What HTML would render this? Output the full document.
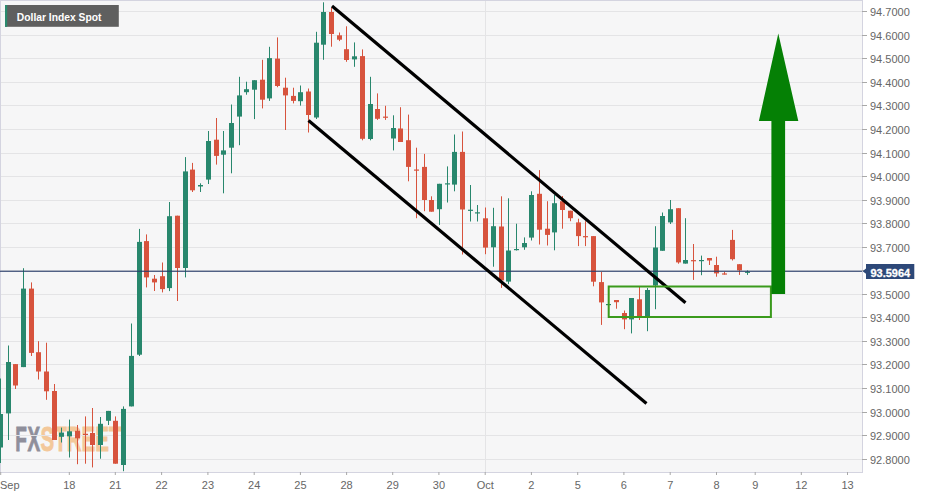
<!DOCTYPE html>
<html><head><meta charset="utf-8"><style>
html,body{margin:0;padding:0;background:#fff;width:939px;height:498px;overflow:hidden}
svg{display:block;font-family:"Liberation Sans",sans-serif}
</style></head><body>
<svg width="939" height="498" viewBox="0 0 939 498">
<rect x="0" y="0" width="939" height="498" fill="#ffffff"/>
<rect x="0" y="0" width="862.5" height="472.5" fill="#f6f6f7"/>
<g transform="translate(15.3,451.0) scale(0.55,1)" font-family="Liberation Sans" font-weight="bold" font-size="34.5px" stroke-width="0.9">
<text x="0" y="0" fill="#8f8f9b" stroke="#8f8f9b" textLength="45">FX</text><text x="46" y="0" fill="#f3c89a" stroke="#f3c89a" textLength="147" lengthAdjust="spacingAndGlyphs">STREET</text>
</g>
<rect x="0" y="11" width="862" height="1" fill="#e4e4e6"/>
<rect x="0" y="35" width="862" height="1" fill="#e4e4e6"/>
<rect x="0" y="58" width="862" height="1" fill="#e4e4e6"/>
<rect x="0" y="82" width="862" height="1" fill="#e4e4e6"/>
<rect x="0" y="105" width="862" height="1" fill="#e4e4e6"/>
<rect x="0" y="129" width="862" height="1" fill="#e4e4e6"/>
<rect x="0" y="153" width="862" height="1" fill="#e4e4e6"/>
<rect x="0" y="176" width="862" height="1" fill="#e4e4e6"/>
<rect x="0" y="200" width="862" height="1" fill="#e4e4e6"/>
<rect x="0" y="223" width="862" height="1" fill="#e4e4e6"/>
<rect x="0" y="247" width="862" height="1" fill="#e4e4e6"/>
<rect x="0" y="270" width="862" height="1" fill="#e4e4e6"/>
<rect x="0" y="294" width="862" height="1" fill="#e4e4e6"/>
<rect x="0" y="317" width="862" height="1" fill="#e4e4e6"/>
<rect x="0" y="341" width="862" height="1" fill="#e4e4e6"/>
<rect x="0" y="364" width="862" height="1" fill="#e4e4e6"/>
<rect x="0" y="388" width="862" height="1" fill="#e4e4e6"/>
<rect x="0" y="412" width="862" height="1" fill="#e4e4e6"/>
<rect x="0" y="435" width="862" height="1" fill="#e4e4e6"/>
<rect x="0" y="459" width="862" height="1" fill="#e4e4e6"/>
<rect x="485" y="0" width="1" height="472" fill="#e4e4e6"/>
<rect x="0" y="0" width="863" height="1" fill="#d4d4e0"/>
<rect x="0" y="0" width="1" height="473" fill="#d4d4e0"/>
<rect x="862" y="0" width="1" height="473" fill="#d4d4e0"/>
<rect x="0" y="472" width="863" height="1" fill="#d4d4e0"/>
<g fill="#666666" font-size="11px">
<rect x="862" y="11" width="5" height="1" fill="#a8a8a8"/>
<text x="870" y="15.70">94.7000</text>
<rect x="862" y="35" width="5" height="1" fill="#a8a8a8"/>
<text x="870" y="39.70">94.6000</text>
<rect x="862" y="58" width="5" height="1" fill="#a8a8a8"/>
<text x="870" y="62.70">94.5000</text>
<rect x="862" y="82" width="5" height="1" fill="#a8a8a8"/>
<text x="870" y="86.70">94.4000</text>
<rect x="862" y="105" width="5" height="1" fill="#a8a8a8"/>
<text x="870" y="109.70">94.3000</text>
<rect x="862" y="129" width="5" height="1" fill="#a8a8a8"/>
<text x="870" y="133.70">94.2000</text>
<rect x="862" y="153" width="5" height="1" fill="#a8a8a8"/>
<text x="870" y="157.70">94.1000</text>
<rect x="862" y="176" width="5" height="1" fill="#a8a8a8"/>
<text x="870" y="180.70">94.0000</text>
<rect x="862" y="200" width="5" height="1" fill="#a8a8a8"/>
<text x="870" y="204.70">93.9000</text>
<rect x="862" y="223" width="5" height="1" fill="#a8a8a8"/>
<text x="870" y="227.70">93.8000</text>
<rect x="862" y="247" width="5" height="1" fill="#a8a8a8"/>
<text x="870" y="251.70">93.7000</text>
<rect x="862" y="270" width="5" height="1" fill="#a8a8a8"/>
<text x="870" y="274.70">93.6000</text>
<rect x="862" y="294" width="5" height="1" fill="#a8a8a8"/>
<text x="870" y="298.70">93.5000</text>
<rect x="862" y="317" width="5" height="1" fill="#a8a8a8"/>
<text x="870" y="321.70">93.4000</text>
<rect x="862" y="341" width="5" height="1" fill="#a8a8a8"/>
<text x="870" y="345.70">93.3000</text>
<rect x="862" y="364" width="5" height="1" fill="#a8a8a8"/>
<text x="870" y="368.70">93.2000</text>
<rect x="862" y="388" width="5" height="1" fill="#a8a8a8"/>
<text x="870" y="392.70">93.1000</text>
<rect x="862" y="412" width="5" height="1" fill="#a8a8a8"/>
<text x="870" y="416.70">93.0000</text>
<rect x="862" y="435" width="5" height="1" fill="#a8a8a8"/>
<text x="870" y="439.70">92.9000</text>
<rect x="862" y="459" width="5" height="1" fill="#a8a8a8"/>
<text x="870" y="463.70">92.8000</text>
<rect x="0.2" y="472" width="1" height="3" fill="#a8a8a8"/>
<text x="0" y="488.6" text-anchor="start">Sep</text>
<rect x="68.8" y="472" width="1" height="3" fill="#a8a8a8"/>
<text x="69.3" y="488.6" text-anchor="middle">18</text>
<rect x="114.8" y="472" width="1" height="3" fill="#a8a8a8"/>
<text x="115.3" y="488.6" text-anchor="middle">21</text>
<rect x="161.1" y="472" width="1" height="3" fill="#a8a8a8"/>
<text x="161.6" y="488.6" text-anchor="middle">22</text>
<rect x="207.4" y="472" width="1" height="3" fill="#a8a8a8"/>
<text x="207.9" y="488.6" text-anchor="middle">23</text>
<rect x="253.7" y="472" width="1" height="3" fill="#a8a8a8"/>
<text x="254.2" y="488.6" text-anchor="middle">24</text>
<rect x="299.9" y="472" width="1" height="3" fill="#a8a8a8"/>
<text x="300.4" y="488.6" text-anchor="middle">25</text>
<rect x="346.1" y="472" width="1" height="3" fill="#a8a8a8"/>
<text x="346.6" y="488.6" text-anchor="middle">28</text>
<rect x="392.2" y="472" width="1" height="3" fill="#a8a8a8"/>
<text x="392.7" y="488.6" text-anchor="middle">29</text>
<rect x="438.4" y="472" width="1" height="3" fill="#a8a8a8"/>
<text x="438.9" y="488.6" text-anchor="middle">30</text>
<rect x="484.7" y="472" width="1" height="3" fill="#a8a8a8"/>
<text x="485.2" y="488.6" text-anchor="middle">Oct</text>
<rect x="530.9" y="472" width="1" height="3" fill="#a8a8a8"/>
<text x="531.4" y="488.6" text-anchor="middle">2</text>
<rect x="577.2" y="472" width="1" height="3" fill="#a8a8a8"/>
<text x="577.7" y="488.6" text-anchor="middle">5</text>
<rect x="623.4" y="472" width="1" height="3" fill="#a8a8a8"/>
<text x="623.9" y="488.6" text-anchor="middle">6</text>
<rect x="669.7" y="472" width="1" height="3" fill="#a8a8a8"/>
<text x="670.2" y="488.6" text-anchor="middle">7</text>
<rect x="716.0" y="472" width="1" height="3" fill="#a8a8a8"/>
<text x="716.5" y="488.6" text-anchor="middle">8</text>
<rect x="754.7" y="472" width="1" height="3" fill="#a8a8a8"/>
<text x="755.2" y="488.6" text-anchor="middle">9</text>
<rect x="800.8" y="472" width="1" height="3" fill="#a8a8a8"/>
<text x="801.3" y="488.6" text-anchor="middle">12</text>
<rect x="847.0" y="472" width="1" height="3" fill="#a8a8a8"/>
<text x="847.5" y="488.6" text-anchor="middle">13</text>
</g>

<rect x="5" y="5" width="113.8" height="21.8" fill="#5f5f5f"/>
<rect x="5" y="5" width="2.2" height="21.8" fill="#2a8a6e"/>
<text x="16.8" y="20.6" fill="#ffffff" font-weight="bold" font-size="11px" textLength="84.7" lengthAdjust="spacingAndGlyphs">Dollar Index Spot</text>
<rect x="0" y="378.5" width="1" height="84.5" fill="#28876d"/>
<rect x="-2" y="414.0" width="5" height="33.5" fill="#28876d"/>
<rect x="8" y="345.5" width="1" height="94.5" fill="#28876d"/>
<rect x="6" y="362.0" width="5" height="51.4" fill="#28876d"/>
<rect x="15" y="364.0" width="1" height="25.0" fill="#d7533d"/>
<rect x="13" y="364.1" width="5" height="21.4" fill="#d7533d"/>
<rect x="23" y="268.2" width="1" height="98.9" fill="#28876d"/>
<rect x="21" y="288.6" width="5" height="78.5" fill="#28876d"/>
<rect x="31" y="282.4" width="1" height="73.6" fill="#d7533d"/>
<rect x="29" y="288.6" width="5" height="64.3" fill="#d7533d"/>
<rect x="38" y="341.2" width="1" height="38.3" fill="#d7533d"/>
<rect x="36" y="352.2" width="5" height="19.3" fill="#d7533d"/>
<rect x="46" y="342.7" width="1" height="57.1" fill="#d7533d"/>
<rect x="44" y="371.5" width="5" height="19.8" fill="#d7533d"/>
<rect x="54" y="384.0" width="1" height="56.0" fill="#d7533d"/>
<rect x="52" y="391.0" width="5" height="49.0" fill="#d7533d"/>
<rect x="61" y="427.6" width="1" height="14.9" fill="#28876d"/>
<rect x="59" y="432.6" width="5" height="4.2" fill="#28876d"/>
<rect x="69" y="419.6" width="1" height="37.9" fill="#28876d"/>
<rect x="67" y="431.3" width="5" height="5.0" fill="#28876d"/>
<rect x="77" y="425.0" width="1" height="39.2" fill="#d7533d"/>
<rect x="75" y="430.8" width="5" height="7.5" fill="#d7533d"/>
<rect x="85" y="416.4" width="1" height="47.3" fill="#d7533d"/>
<rect x="83" y="433.8" width="5" height="1.2" fill="#d7533d"/>
<rect x="92" y="408.0" width="1" height="59.4" fill="#d7533d"/>
<rect x="90" y="433.0" width="5" height="12.0" fill="#d7533d"/>
<rect x="100" y="417.0" width="1" height="41.7" fill="#28876d"/>
<rect x="98" y="423.8" width="5" height="21.2" fill="#28876d"/>
<rect x="108" y="410.9" width="1" height="14.1" fill="#28876d"/>
<rect x="106" y="410.9" width="5" height="9.9" fill="#28876d"/>
<rect x="115" y="416.4" width="1" height="47.3" fill="#d7533d"/>
<rect x="113" y="420.8" width="5" height="42.9" fill="#d7533d"/>
<rect x="123" y="406.4" width="1" height="64.8" fill="#28876d"/>
<rect x="121" y="408.9" width="5" height="56.1" fill="#28876d"/>
<rect x="131" y="323.5" width="1" height="82.9" fill="#28876d"/>
<rect x="129" y="355.9" width="5" height="50.5" fill="#28876d"/>
<rect x="139" y="228.9" width="1" height="127.1" fill="#28876d"/>
<rect x="137" y="241.9" width="5" height="112.8" fill="#28876d"/>
<rect x="146" y="234.4" width="1" height="53.0" fill="#d7533d"/>
<rect x="144" y="241.1" width="5" height="36.3" fill="#d7533d"/>
<rect x="154" y="275.0" width="1" height="16.0" fill="#d7533d"/>
<rect x="152" y="278.7" width="5" height="3.7" fill="#d7533d"/>
<rect x="162" y="262.5" width="1" height="29.9" fill="#d7533d"/>
<rect x="160" y="276.2" width="5" height="12.9" fill="#d7533d"/>
<rect x="169" y="202.0" width="1" height="89.1" fill="#28876d"/>
<rect x="167" y="216.2" width="5" height="71.9" fill="#28876d"/>
<rect x="177" y="215.7" width="1" height="85.3" fill="#d7533d"/>
<rect x="175" y="215.7" width="5" height="52.3" fill="#d7533d"/>
<rect x="185" y="157.1" width="1" height="120.3" fill="#28876d"/>
<rect x="183" y="171.4" width="5" height="96.6" fill="#28876d"/>
<rect x="192" y="162.9" width="1" height="29.1" fill="#d7533d"/>
<rect x="190" y="169.6" width="5" height="20.7" fill="#d7533d"/>
<rect x="200" y="183.3" width="1" height="8.7" fill="#28876d"/>
<rect x="198" y="185.0" width="5" height="1.5" fill="#28876d"/>
<rect x="208" y="131.0" width="1" height="53.0" fill="#28876d"/>
<rect x="206" y="141.0" width="5" height="38.6" fill="#28876d"/>
<rect x="216" y="118.0" width="1" height="46.6" fill="#d7533d"/>
<rect x="214" y="139.7" width="5" height="16.2" fill="#d7533d"/>
<rect x="223" y="131.0" width="1" height="62.3" fill="#28876d"/>
<rect x="221" y="150.4" width="5" height="4.3" fill="#28876d"/>
<rect x="231" y="104.5" width="1" height="68.8" fill="#28876d"/>
<rect x="229" y="123.0" width="5" height="24.7" fill="#28876d"/>
<rect x="239" y="76.8" width="1" height="68.4" fill="#28876d"/>
<rect x="237" y="95.4" width="5" height="21.2" fill="#28876d"/>
<rect x="246" y="81.7" width="1" height="13.0" fill="#28876d"/>
<rect x="244" y="89.2" width="5" height="3.0" fill="#28876d"/>
<rect x="254" y="80.2" width="1" height="38.9" fill="#28876d"/>
<rect x="252" y="80.2" width="5" height="9.5" fill="#28876d"/>
<rect x="262" y="59.8" width="1" height="48.6" fill="#d7533d"/>
<rect x="260" y="79.7" width="5" height="20.0" fill="#d7533d"/>
<rect x="269" y="46.8" width="1" height="54.1" fill="#28876d"/>
<rect x="267" y="58.1" width="5" height="40.3" fill="#28876d"/>
<rect x="277" y="37.4" width="1" height="49.8" fill="#d7533d"/>
<rect x="275" y="58.6" width="5" height="27.4" fill="#d7533d"/>
<rect x="285" y="77.7" width="1" height="52.3" fill="#d7533d"/>
<rect x="283" y="87.7" width="5" height="7.7" fill="#d7533d"/>
<rect x="293" y="87.7" width="1" height="15.7" fill="#d7533d"/>
<rect x="291" y="95.9" width="5" height="5.0" fill="#d7533d"/>
<rect x="300" y="85.5" width="1" height="20.1" fill="#28876d"/>
<rect x="298" y="92.2" width="5" height="9.0" fill="#28876d"/>
<rect x="308" y="88.5" width="1" height="44.0" fill="#d7533d"/>
<rect x="306" y="91.5" width="5" height="23.5" fill="#d7533d"/>
<rect x="316" y="31.8" width="1" height="87.2" fill="#28876d"/>
<rect x="314" y="42.7" width="5" height="74.8" fill="#28876d"/>
<rect x="323" y="2.3" width="1" height="57.5" fill="#28876d"/>
<rect x="321" y="12.0" width="5" height="32.7" fill="#28876d"/>
<rect x="331" y="7.5" width="1" height="39.2" fill="#d7533d"/>
<rect x="329" y="12.0" width="5" height="22.0" fill="#d7533d"/>
<rect x="339" y="32.5" width="1" height="8.6" fill="#d7533d"/>
<rect x="337" y="35.3" width="5" height="4.4" fill="#d7533d"/>
<rect x="346" y="26.3" width="1" height="35.5" fill="#d7533d"/>
<rect x="344" y="49.2" width="5" height="10.8" fill="#d7533d"/>
<rect x="354" y="42.4" width="1" height="24.4" fill="#28876d"/>
<rect x="352" y="56.3" width="5" height="3.1" fill="#28876d"/>
<rect x="362" y="49.4" width="1" height="90.9" fill="#d7533d"/>
<rect x="360" y="56.1" width="5" height="82.7" fill="#d7533d"/>
<rect x="370" y="76.8" width="1" height="63.5" fill="#28876d"/>
<rect x="368" y="104.0" width="5" height="35.0" fill="#28876d"/>
<rect x="377" y="93.4" width="1" height="26.5" fill="#d7533d"/>
<rect x="375" y="109.0" width="5" height="9.8" fill="#d7533d"/>
<rect x="385" y="105.8" width="1" height="14.1" fill="#d7533d"/>
<rect x="383" y="116.6" width="5" height="1.2" fill="#d7533d"/>
<rect x="393" y="115.3" width="1" height="35.1" fill="#28876d"/>
<rect x="391" y="128.0" width="5" height="10.5" fill="#28876d"/>
<rect x="400" y="107.2" width="1" height="34.8" fill="#d7533d"/>
<rect x="398" y="128.5" width="5" height="13.5" fill="#d7533d"/>
<rect x="408" y="114.6" width="1" height="66.7" fill="#d7533d"/>
<rect x="406" y="140.2" width="5" height="26.7" fill="#d7533d"/>
<rect x="416" y="147.7" width="1" height="70.5" fill="#d7533d"/>
<rect x="414" y="169.5" width="5" height="1.2" fill="#d7533d"/>
<rect x="424" y="153.9" width="1" height="57.3" fill="#d7533d"/>
<rect x="422" y="166.9" width="5" height="33.1" fill="#d7533d"/>
<rect x="431" y="196.3" width="1" height="15.4" fill="#d7533d"/>
<rect x="429" y="200.0" width="5" height="11.7" fill="#d7533d"/>
<rect x="439" y="183.8" width="1" height="41.1" fill="#28876d"/>
<rect x="437" y="183.8" width="5" height="25.4" fill="#28876d"/>
<rect x="447" y="166.4" width="1" height="36.1" fill="#28876d"/>
<rect x="445" y="183.3" width="5" height="1.2" fill="#28876d"/>
<rect x="454" y="134.5" width="1" height="56.8" fill="#28876d"/>
<rect x="452" y="151.9" width="5" height="32.7" fill="#28876d"/>
<rect x="462" y="131.5" width="1" height="123.0" fill="#d7533d"/>
<rect x="460" y="151.9" width="5" height="57.6" fill="#d7533d"/>
<rect x="470" y="185.0" width="1" height="36.5" fill="#28876d"/>
<rect x="468" y="209.7" width="5" height="1.2" fill="#28876d"/>
<rect x="477" y="205.0" width="1" height="16.5" fill="#28876d"/>
<rect x="475" y="212.3" width="5" height="1.2" fill="#28876d"/>
<rect x="485" y="207.5" width="1" height="46.7" fill="#d7533d"/>
<rect x="483" y="218.3" width="5" height="29.3" fill="#d7533d"/>
<rect x="493" y="207.8" width="1" height="58.9" fill="#28876d"/>
<rect x="491" y="226.2" width="5" height="21.1" fill="#28876d"/>
<rect x="501" y="196.3" width="1" height="91.6" fill="#d7533d"/>
<rect x="499" y="226.5" width="5" height="53.9" fill="#d7533d"/>
<rect x="508" y="198.3" width="1" height="85.8" fill="#28876d"/>
<rect x="506" y="250.5" width="5" height="31.1" fill="#28876d"/>
<rect x="516" y="223.7" width="1" height="26.8" fill="#28876d"/>
<rect x="514" y="249.0" width="5" height="1.2" fill="#28876d"/>
<rect x="524" y="237.4" width="1" height="12.4" fill="#28876d"/>
<rect x="522" y="243.0" width="5" height="4.3" fill="#28876d"/>
<rect x="531" y="191.3" width="1" height="49.2" fill="#28876d"/>
<rect x="529" y="195.0" width="5" height="42.6" fill="#28876d"/>
<rect x="539" y="170.1" width="1" height="74.4" fill="#d7533d"/>
<rect x="537" y="193.8" width="5" height="35.9" fill="#d7533d"/>
<rect x="547" y="201.2" width="1" height="44.3" fill="#d7533d"/>
<rect x="545" y="228.7" width="5" height="6.2" fill="#d7533d"/>
<rect x="554" y="195.0" width="1" height="55.3" fill="#28876d"/>
<rect x="552" y="203.2" width="5" height="29.2" fill="#28876d"/>
<rect x="562" y="196.0" width="1" height="32.7" fill="#d7533d"/>
<rect x="560" y="201.2" width="5" height="8.8" fill="#d7533d"/>
<rect x="570" y="210.7" width="1" height="10.5" fill="#d7533d"/>
<rect x="568" y="210.7" width="5" height="7.5" fill="#d7533d"/>
<rect x="578" y="218.7" width="1" height="27.4" fill="#d7533d"/>
<rect x="576" y="222.4" width="5" height="13.7" fill="#d7533d"/>
<rect x="585" y="221.2" width="1" height="24.9" fill="#d7533d"/>
<rect x="583" y="236.1" width="5" height="1.2" fill="#d7533d"/>
<rect x="593" y="236.1" width="1" height="50.2" fill="#d7533d"/>
<rect x="591" y="236.1" width="5" height="45.6" fill="#d7533d"/>
<rect x="601" y="272.0" width="1" height="52.9" fill="#d7533d"/>
<rect x="599" y="282.1" width="5" height="20.3" fill="#d7533d"/>
<rect x="608" y="303.0" width="1" height="2.5" fill="#28876d"/>
<rect x="606" y="304.0" width="5" height="1.2" fill="#28876d"/>
<rect x="616" y="300.0" width="1" height="8.7" fill="#d7533d"/>
<rect x="614" y="300.0" width="5" height="2.2" fill="#d7533d"/>
<rect x="624" y="310.5" width="1" height="18.7" fill="#d7533d"/>
<rect x="622" y="313.0" width="5" height="6.4" fill="#d7533d"/>
<rect x="631" y="298.0" width="1" height="35.4" fill="#28876d"/>
<rect x="629" y="298.0" width="5" height="21.4" fill="#28876d"/>
<rect x="639" y="286.5" width="1" height="33.5" fill="#d7533d"/>
<rect x="637" y="299.3" width="5" height="17.5" fill="#d7533d"/>
<rect x="647" y="288.0" width="1" height="43.2" fill="#28876d"/>
<rect x="645" y="290.0" width="5" height="26.0" fill="#28876d"/>
<rect x="655" y="226.2" width="1" height="83.0" fill="#28876d"/>
<rect x="653" y="247.5" width="5" height="38.0" fill="#28876d"/>
<rect x="662" y="212.5" width="1" height="38.3" fill="#28876d"/>
<rect x="660" y="216.0" width="5" height="34.8" fill="#28876d"/>
<rect x="670" y="200.0" width="1" height="24.0" fill="#28876d"/>
<rect x="668" y="209.2" width="5" height="13.2" fill="#28876d"/>
<rect x="678" y="208.2" width="1" height="55.5" fill="#d7533d"/>
<rect x="676" y="208.2" width="5" height="54.2" fill="#d7533d"/>
<rect x="685" y="218.2" width="1" height="45.4" fill="#28876d"/>
<rect x="683" y="260.0" width="5" height="3.6" fill="#28876d"/>
<rect x="693" y="244.0" width="1" height="35.9" fill="#d7533d"/>
<rect x="691" y="260.1" width="5" height="1.2" fill="#d7533d"/>
<rect x="701" y="255.6" width="1" height="19.6" fill="#28876d"/>
<rect x="699" y="260.0" width="5" height="1.2" fill="#28876d"/>
<rect x="709" y="258.0" width="1" height="7.0" fill="#d7533d"/>
<rect x="707" y="258.0" width="5" height="2.5" fill="#d7533d"/>
<rect x="716" y="256.7" width="1" height="20.0" fill="#d7533d"/>
<rect x="714" y="265.0" width="5" height="8.4" fill="#d7533d"/>
<rect x="724" y="271.7" width="1" height="2.9" fill="#d7533d"/>
<rect x="722" y="273.4" width="5" height="1.2" fill="#d7533d"/>
<rect x="732" y="229.9" width="1" height="30.6" fill="#d7533d"/>
<rect x="730" y="239.9" width="5" height="19.3" fill="#d7533d"/>
<rect x="739" y="264.2" width="1" height="10.7" fill="#d7533d"/>
<rect x="737" y="264.2" width="5" height="6.2" fill="#d7533d"/>
<rect x="747" y="270.4" width="1" height="4.5" fill="#28876d"/>
<rect x="745" y="271.7" width="5" height="1.2" fill="#28876d"/>
<rect x="0" y="270.7" width="862" height="1.1" fill="#283c69"/>
<path d="M862.6 271.2 L866 268.6 L866 264.1 L914.3 264.1 L914.3 279 L866 279 L866 273.8 Z" fill="#2d4878"/>
<text x="890.3" y="276.6" fill="#ffffff" stroke="#ffffff" stroke-width="0.3" font-weight="bold" font-size="11px" text-anchor="middle">93.5964</text>
<line x1="332" y1="6" x2="685.5" y2="302.8" stroke="#000" stroke-width="3.2"/>
<line x1="308.5" y1="120.5" x2="646.5" y2="403.5" stroke="#000" stroke-width="3.2"/>
<rect x="608.7" y="286.5" width="162.2" height="30.5" fill="none" stroke="#3a9a1c" stroke-width="2"/>
<path d="M778.3 33.6 L798.3 120.9 L785.1 120.9 L785.1 294.1 L771.4 294.1 L771.4 120.9 L758.9 120.9 Z" fill="#058005"/>
</svg>
</body></html>
